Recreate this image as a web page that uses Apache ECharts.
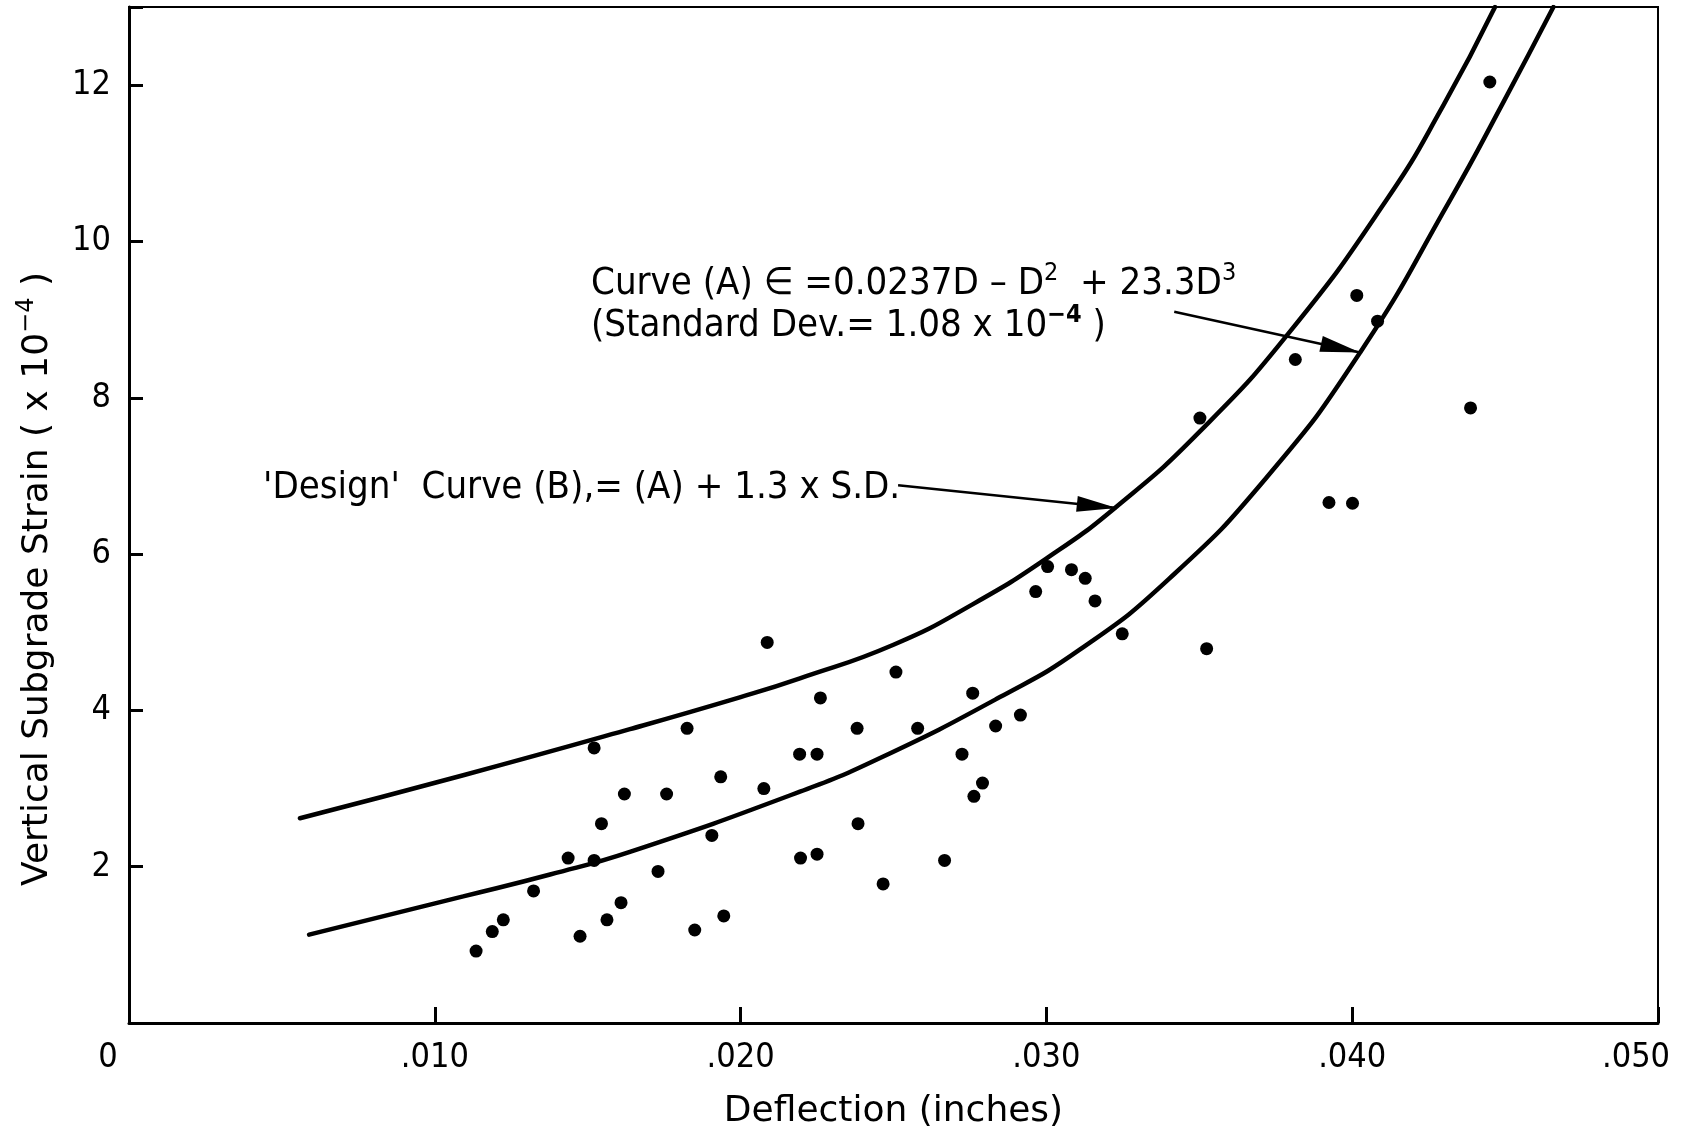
<!DOCTYPE html>
<html>
<head>
<meta charset="utf-8">
<script src="https://cdn.jsdelivr.net/npm/echarts@6/dist/echarts.min.js"></script>
<style>
  html, body { margin: 0; padding: 0; background: #fff; }
  #chart { width: 1697px; height: 1128px; }
</style>
</head>
<body>
<div id="chart"></div>
<script>
const FONT = '"DejaVu Sans Condensed", "Liberation Sans Narrow", "DejaVu Sans", sans-serif';
const FONT_WIDE = '"DejaVu Sans", "Liberation Sans", sans-serif';

// measured points (deflection in inches, strain x 10^-4)
const deflection = [0.01135, 0.01188, 0.01224, 0.01323, 0.01436, 0.01475, 0.01521, 0.01521, 0.01545, 0.01563,
  0.01609, 0.01620, 0.01730, 0.01758, 0.01825, 0.01850, 0.01906, 0.01935, 0.01945, 0.02076,
  0.02087, 0.02193, 0.02196, 0.02250, 0.02250, 0.02261, 0.02381, 0.02384, 0.02466, 0.02508,
  0.02579, 0.02667, 0.02724, 0.02759, 0.02763, 0.02791, 0.02834, 0.02915, 0.02965, 0.03004,
  0.03082, 0.03127, 0.03159, 0.03248, 0.03502, 0.03524, 0.03814, 0.03924, 0.04001, 0.04015,
  0.04083, 0.04387, 0.04450];
const strain = [0.92, 1.17, 1.32, 1.69, 2.11, 1.11, 3.52, 2.08, 2.55, 1.32,
  1.54, 2.93, 1.94, 2.93, 3.77, 1.19, 2.40, 3.15, 1.37, 3.00,
  4.87, 3.44, 2.11, 3.44, 2.16, 4.16, 3.77, 2.55, 1.78, 4.49,
  3.77, 2.08, 3.44, 4.22, 2.90, 3.07, 3.80, 3.94, 5.52, 5.84,
  5.80, 5.69, 5.40, 4.98, 7.74, 4.79, 8.49, 6.66, 6.65, 9.31,
  8.98, 7.87, 12.04];

// curve (A): fitted curve
const curveAx = [0.00589, 0.01093, 0.01377, 0.01638, 0.02194, 0.02456, 0.02848, 0.03110, 0.03400, 0.03720, 0.04026, 0.04320, 0.04494, 0.04658];
const curveAy = [1.13, 1.62, 1.90, 2.19, 2.96, 3.39, 4.17, 4.78, 5.68, 6.98, 8.58, 10.53, 11.78, 13.0];

// curve (B): 'design' curve
const curveBx = [0.00559, 0.01093, 0.01638, 0.02000, 0.02194, 0.02500, 0.02760, 0.03010, 0.03230, 0.03502, 0.03797, 0.04112, 0.04298, 0.04467];
const curveBy = [2.62, 3.17, 3.76, 4.17, 4.41, 4.84, 5.36, 5.97, 6.61, 7.57, 8.85, 10.53, 11.74, 13.0];

// annotation arrows [from, to] in data units
const arrowDesign = [[0.02515, 6.88], [0.03230, 6.59]];
const arrowCurveA = [[0.03418, 9.10], [0.04026, 8.58]];

const xTicks = { 0: '0', 0.01: '.010', 0.02: '.020', 0.03: '.030', 0.04: '.040', 0.05: '.050' };

function zip(xs, ys) {
  return xs.map(function (x, i) { return [x, ys[i]]; });
}

function arrow(pair) {
  return [
    { coord: pair[0], symbol: 'none' },
    { coord: pair[1], symbol: 'triangle', symbolSize: [16, 40], symbolOffset: [0, 20] }
  ];
}

let chart = echarts.init(document.getElementById('chart'));

let curveStyle = { color: '#000', width: 4.5, cap: 'round', join: 'round' };
let supStyle = { fontSize: 25, fontFamily: FONT, color: '#000', padding: [0, 0, 22, 0] };

let option = {
  backgroundColor: '#fff',
  animation: false,
  textStyle: { fontFamily: FONT, color: '#000' },
  grid: {
    left: 129, right: 39, top: 7, bottom: 105,
    outerBoundsMode: 'none',
    containLabel: false,
    show: true, borderColor: '#000', borderWidth: 2, backgroundColor: 'transparent'
  },
  xAxis: {
    type: 'value',
    min: 0, max: 0.05, interval: 0.01,
    name: 'Deflection (inches)',
    nameLocation: 'middle',
    nameGap: 71,
    nameTextStyle: { fontSize: 36, fontFamily: FONT_WIDE, color: '#000' },
    axisLine: { show: true, onZero: false, lineStyle: { color: '#000', width: 3 } },
    axisTick: { show: true, inside: true, length: 16, lineStyle: { color: '#000', width: 3 } },
    splitLine: { show: false },
    axisLabel: {
      fontSize: 34, fontFamily: FONT, color: '#000', margin: 18,
      showMinLabel: true, showMaxLabel: true,
      formatter: function (v) {
        let key = Math.round(v * 100) / 100;
        let s = xTicks[key] || '';
        if (key === 0) return '{z|' + s + '}';
        if (key === 0.05) return '{sh|' + s + '}';
        return s;
      },
      rich: {
        z: { fontSize: 34, fontFamily: FONT, color: '#000', padding: [0, 42, 0, 0] },
        sh: { fontSize: 34, fontFamily: FONT, color: '#000', padding: [0, 44, 0, 0] }
      }
    }
  },
  yAxis: {
    type: 'value',
    min: 0, max: 13, interval: 2,
    name: 'Vertical Subgrade Strain ( x 10{sup|−4} )',
    nameLocation: 'middle',
    nameGap: 68,
    nameTextStyle: {
      fontSize: 36, fontFamily: FONT_WIDE, color: '#000', padding: [0, 128, 0, 0],
      rich: { sup: { fontSize: 24, fontFamily: FONT_WIDE, color: '#000', padding: [0, 0, 22, 0] } }
    },
    axisLine: { show: true, onZero: false, lineStyle: { color: '#000', width: 3 } },
    axisTick: { show: true, inside: true, length: 14, lineStyle: { color: '#000', width: 3 } },
    splitLine: { show: false },
    axisLabel: {
      fontSize: 34, fontFamily: FONT, color: '#000', margin: 18,
      formatter: function (v) {
        return (v === 0 || v > 12) ? '' : String(v);
      }
    }
  },
  series: [
    {
      name: 'Design Curve (B)',
      type: 'line',
      data: zip(curveBx, curveBy),
      smooth: 0.5,
      showSymbol: false,
      lineStyle: curveStyle,
      silent: true
    },
    {
      name: 'Curve (A)',
      type: 'line',
      data: zip(curveAx, curveAy),
      smooth: 0.5,
      showSymbol: false,
      lineStyle: curveStyle,
      silent: true
    },
    {
      name: 'Measured',
      type: 'scatter',
      data: zip(deflection, strain),
      symbol: 'circle',
      symbolSize: 13,
      itemStyle: { color: '#000', opacity: 1 },
      markLine: {
        silent: true,
        symbol: 'none',
        symbolSize: 1,
        label: { show: false },
        lineStyle: { color: '#000', width: 2.5, type: 'solid' },
        itemStyle: { color: '#000' },
        data: [arrow(arrowDesign), arrow(arrowCurveA)]
      }
    }
  ],
  graphic: [
    {
      type: 'text',
      left: 591, top: 261,
      style: {
        text: 'Curve (A) ∈ =0.0237D – D{sup|2}  + 23.3D{sup|3}',
        font: '38px ' + FONT,
        fill: '#000',
        rich: { sup: supStyle }
      }
    },
    {
      type: 'text',
      left: 591, top: 303,
      style: {
        text: '(Standard Dev.= 1.08 x 10{sup|−4} )',
        font: '38px ' + FONT,
        fill: '#000',
        rich: { sup: Object.assign({}, supStyle, { fontWeight: 'bold' }) }
      }
    },
    {
      type: 'text',
      left: 263, top: 469,
      style: {
        text: "'Design'  Curve (B),= (A) + 1.3 x S.D.",
        font: '38px ' + FONT,
        fill: '#000'
      }
    }
  ]
};

chart.setOption(option, true);
</script>
</body>
</html>
